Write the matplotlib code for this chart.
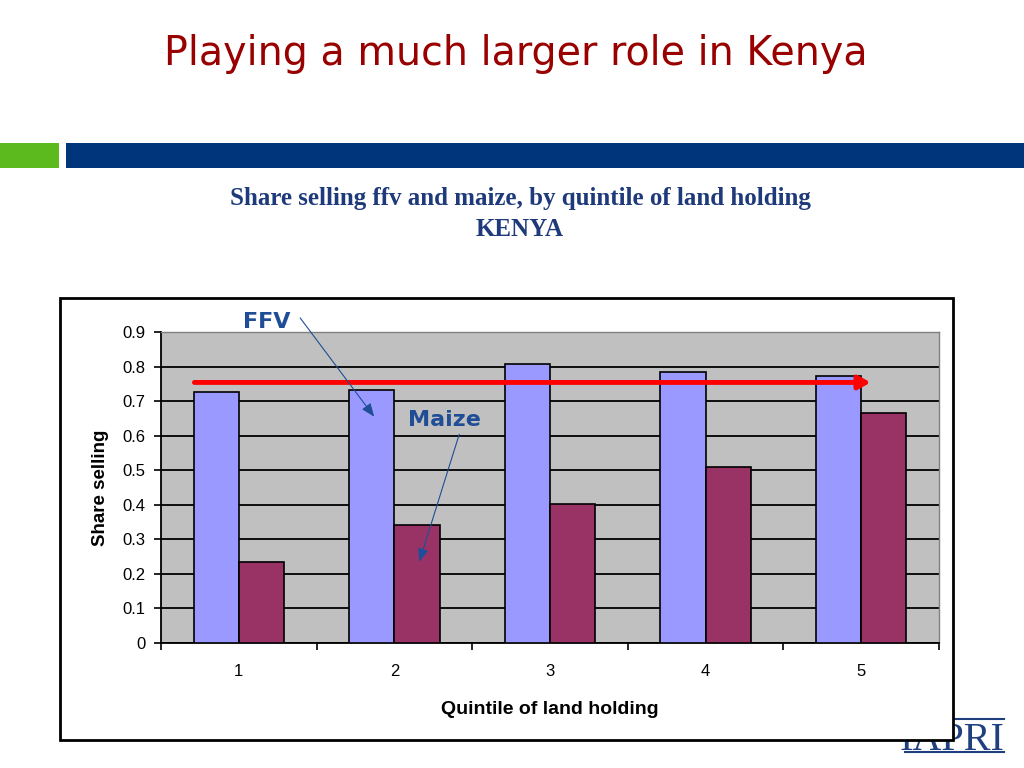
import numpy as np
import matplotlib
matplotlib.use("Agg")
import matplotlib.pyplot as plt
from matplotlib.patches import Rectangle

# data
quintiles = ["1", "2", "3", "4", "5"]
ffv_share = [0.725, 0.733, 0.806, 0.783, 0.774]
maize_share = [0.235, 0.342, 0.403, 0.510, 0.667]
ffv_level = 0.754  # red reference arrow

W, H = 1024, 768
fig = plt.figure(figsize=(W / 100, H / 100), dpi=100)
fig.patch.set_facecolor("white")


def fx(px):
    return px / W


def fy(py):
    return 1 - py / H


# slide title
fig.text(fx(516), fy(54), "Playing a much larger role in Kenya", ha="center", va="center",
         fontsize=28.5, color="#990000", family="DejaVu Sans")

# header bars
fig.patches.append(Rectangle((fx(0), fy(168)), fx(59), 25 / H, transform=fig.transFigure,
                             facecolor="#5cb91e", edgecolor="none"))
fig.patches.append(Rectangle((fx(66), fy(168)), fx(958), 25 / H, transform=fig.transFigure,
                             facecolor="#00357c", edgecolor="none"))

# subtitle
fig.text(fx(520), fy(198), "Share selling ffv and maize, by quintile of land holding",
         ha="center", va="center", fontsize=18, fontweight="bold", color="#1f3a7a",
         family="Liberation Serif")
fig.text(fx(520), fy(229), "KENYA", ha="center", va="center", fontsize=18,
         fontweight="bold", color="#1f3a7a", family="Liberation Serif")

# IAPRI logo (partly behind the chart box)
fig.text(fx(1004), fy(750), "IAPRI", ha="right", va="baseline", fontsize=29,
         color="#1f3f7f", family="Liberation Serif", zorder=1)
fig.lines.append(plt.Line2D([fx(905), fx(1004)], [fy(752), fy(752)], transform=fig.transFigure,
                            color="#1f3f7f", lw=1.5, zorder=1))
fig.lines.append(plt.Line2D([fx(905), fx(1004)], [fy(719), fy(719)], transform=fig.transFigure,
                            color="#1f3f7f", lw=1.5, zorder=1))

# chart box
fig.patches.append(Rectangle((fx(60), fy(740)), fx(893), (740 - 298) / H, transform=fig.transFigure,
                             facecolor="white", edgecolor="black", lw=2, zorder=2))

ax = fig.add_axes([fx(161), fy(643), fx(778), (643 - 332) / H], zorder=3)
ax.set_facecolor("#c0c0c0")

x = np.arange(len(quintiles))
bw = 0.29
ax.bar(x - bw / 2, ffv_share, bw, color="#9999ff", edgecolor="black", lw=1.2, zorder=3)
ax.bar(x + bw / 2, maize_share, bw, color="#993366", edgecolor="black", lw=1.2, zorder=3)

ax.set_xlim(-0.5, 4.5)
ax.set_ylim(0, 0.9)
ax.set_yticks(np.arange(0, 0.91, 0.1))
ax.set_yticklabels(["0"] + [f"{v:.1f}" for v in np.arange(0.1, 0.91, 0.1)])
ax.yaxis.grid(True, color="black", lw=1.3, zorder=1)
ax.set_axisbelow(True)

ax.set_xticks(x)
ax.set_xticklabels(quintiles)
ax.set_xticks(np.arange(-0.5, 4.6, 1), minor=True)
ax.tick_params(axis="x", which="major", length=0, pad=15, labelsize=12)
ax.tick_params(axis="x", which="minor", length=5, width=1.2, direction="out")
ax.tick_params(axis="y", length=5, width=1.2, direction="out", labelsize=12, pad=6)
for lab in ax.get_xticklabels() + ax.get_yticklabels():
    lab.set_family("Liberation Sans")

for s in ["top", "right"]:
    ax.spines[s].set_color("#808080")
    ax.spines[s].set_linewidth(1)
for s in ["left", "bottom"]:
    ax.spines[s].set_color("black")
    ax.spines[s].set_linewidth(1.3)

ax.set_ylabel("Share selling", fontsize=13.5, fontweight="bold", family="Liberation Sans", labelpad=10)
ax.set_xlabel("Quintile of land holding", fontsize=14, fontweight="bold", family="Liberation Sans",
              labelpad=16)

# red average arrow
ax.annotate("", xy=(4.06, ffv_level), xytext=(-0.285, ffv_level),
            arrowprops=dict(arrowstyle="-|>,head_length=0.7,head_width=0.4", color="#ff0000",
                            lw=3.5, shrinkA=0, shrinkB=0), zorder=5)

# series labels with pointer arrows
lblue = "#1f4e96"
ax.annotate("FFV", xy=(0.87, 0.655), xytext=(0.18, 0.93), textcoords="data",
            fontsize=16, fontweight="bold", color=lblue, ha="center", va="center",
            family="DejaVu Sans", annotation_clip=False,
            arrowprops=dict(arrowstyle="-|>,head_length=0.5,head_width=0.2", color=lblue, lw=0.8,
                            shrinkA=3, shrinkB=0, relpos=(1.15, 0.85)), zorder=6)
ax.annotate("Maize", xy=(1.16, 0.235), xytext=(1.32, 0.645), textcoords="data",
            fontsize=16, fontweight="bold", color=lblue, ha="center", va="center",
            family="DejaVu Sans",
            arrowprops=dict(arrowstyle="-|>,head_length=0.5,head_width=0.2", color=lblue, lw=0.8,
                            shrinkA=1, shrinkB=0, relpos=(0.72, -0.05)), zorder=6)

fig.savefig("out.png", dpi=100)
